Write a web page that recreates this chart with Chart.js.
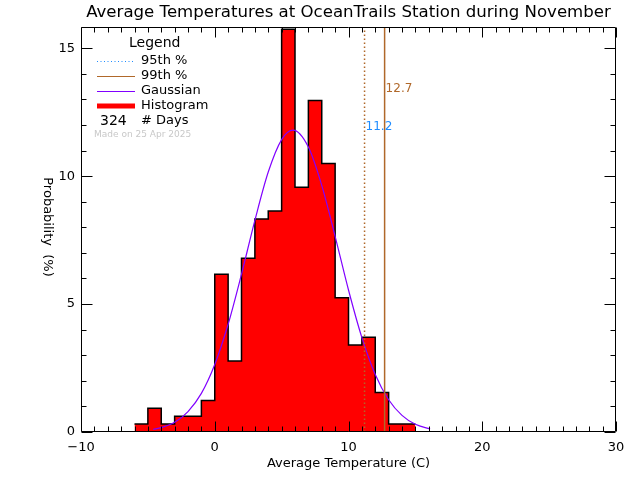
<!DOCTYPE html>
<html><head><meta charset="utf-8">
<script src="https://cdn.jsdelivr.net/npm/chart.js@4"></script>
<style>html,body{margin:0;padding:0;background:#fff}</style>
</head><body>
<canvas id="c" width="640" height="480" style="width:640px;height:480px;display:block"></canvas>
<script>
const titleText = 'Average Temperatures at OceanTrails Station during November';
const xAxisTitle = 'Average Temperature (C)';
const yAxisTitle = 'Probability  (%)';
const binLeft = [-6,-5,-4,-3,-2,-1,0,1,2,3,4,5,6,7,8,9,10,11,12,13,14];
const binProb = [0.31,0.93,0.31,0.62,0.62,1.23,6.17,2.78,6.79,8.33,8.64,15.74,9.57,12.96,10.49,5.25,3.40,3.70,1.54,0.31,0.31];
const binWidth = 1;
const gaussX = [-4.6,-4,-3,-2,-1,0,1,2,3,4,5,5.85,7,8,9,10,11,12,13,14,15,16.1];
const gaussY = [0.10,0.17,0.38,0.80,1.51,2.64,4.21,6.17,8.27,10.16,11.43,11.80,11.14,9.64,7.65,5.55,3.69,2.25,1.26,0.65,0.30,0.12];
const p95 = 11.2;
const p99 = 12.7;
const nDays = 324;
const madeOn = 'Made on 25 Apr 2025';
const xTicks = [-10,0,10,20,30];
const yTicks = [0,5,10,15];
const xMin = -10, xMax = 30, yMin = 0, yMax = 15.83;

const FONT = "'DejaVu Sans'";
const BROWN = '#b0682a', BLUE = '#1e8cff', PURPLE = '#8000ff', RED = '#ff0000';

const histPts = binLeft.map((b,i)=>({x:b,y:binProb[i]}));
histPts.push({x: binLeft[binLeft.length-1]+binWidth, y: binProb[binProb.length-1]});
const gaussPts = gaussX.map((x,i)=>({x:x,y:gaussY[i]}));

const deco = {
  id:'deco',
  afterDatasetsDraw(chart){
    const {ctx, chartArea:a, scales:{x,y}} = chart;
    ctx.save();
    ctx.strokeStyle='#000'; ctx.lineWidth=1;
    const L=Math.round(a.left)+0.5, R=Math.round(a.right)-0.5, T=Math.round(a.top)+0.5, B=Math.round(a.bottom)-0.5;
    ctx.beginPath();
    ctx.rect(L,T,R-L,B-T);
    for(let v=xMin; v<=xMax; v++){
      const px=Math.round(x.getPixelForValue(v))+0.5;
      const len = (v%10===0)?10:5;
      ctx.moveTo(px,B); ctx.lineTo(px,B-len);
      ctx.moveTo(px,T); ctx.lineTo(px,T+len);
    }
    for(let v=0; v<=15; v++){
      const py=Math.round(y.getPixelForValue(v))+0.5;
      const len = (v%5===0)?11:5;
      ctx.moveTo(L,py); ctx.lineTo(L+len,py);
      ctx.moveTo(R,py); ctx.lineTo(R-len,py);
    }
    ctx.stroke();

    // title
    ctx.fillStyle='#000';
    ctx.font='16.6px '+FONT;
    ctx.textAlign='center'; ctx.textBaseline='middle';
    ctx.fillText(titleText,(a.left+a.right)/2,13);

    // y title rotated clockwise
    ctx.save();
    ctx.translate(47,227);
    ctx.rotate(Math.PI/2);
    ctx.font='13px '+FONT;
    ctx.fillText(yAxisTitle,0,0);
    ctx.restore();

    // percentile labels
    ctx.font='12px '+FONT;
    ctx.textAlign='left';
    ctx.fillStyle=BROWN;
    ctx.fillText(p99.toFixed(1), x.getPixelForValue(p99)+1, 89);
    ctx.fillStyle=BLUE;
    ctx.fillText(p95.toFixed(1), x.getPixelForValue(p95)+1, 127);

    // legend
    ctx.fillStyle='#000';
    ctx.font='14px '+FONT;
    ctx.fillText('Legend',129,43);
    ctx.font='13px '+FONT;
    const lx0=97, lx1=135, tx=141;
    const rows=[61,76,91,106,121];
    ctx.lineWidth=1.2;
    ctx.strokeStyle=BLUE; ctx.setLineDash([1,2.5]);
    ctx.beginPath(); ctx.moveTo(lx0,rows[0]+0.5); ctx.lineTo(lx1,rows[0]+0.5); ctx.stroke();
    ctx.setLineDash([]);
    ctx.strokeStyle=BROWN;
    ctx.beginPath(); ctx.moveTo(lx0,rows[1]+0.5); ctx.lineTo(lx1,rows[1]+0.5); ctx.stroke();
    ctx.strokeStyle=PURPLE;
    ctx.beginPath(); ctx.moveTo(lx0,rows[2]+0.5); ctx.lineTo(lx1,rows[2]+0.5); ctx.stroke();
    ctx.fillStyle=RED;
    ctx.fillRect(lx0,rows[3]-2.5,lx1-lx0,5);
    ctx.fillStyle='#000';
    ctx.fillText('95th %',tx,rows[0]);
    ctx.fillText('99th %',tx,rows[1]);
    ctx.fillText('Gaussian',tx,rows[2]);
    ctx.fillText('Histogram',tx,rows[3]);
    ctx.fillText('# Days',tx,rows[4]);
    ctx.font='14px '+FONT;
    ctx.fillText(String(nDays),100,rows[4]);
    ctx.fillStyle='#c8c8c8';
    ctx.font='9px '+FONT;
    ctx.fillText(madeOn,94,135);
    ctx.restore();
  }
};

new Chart(document.getElementById('c'), {
  type:'line',
  data:{datasets:[
    {label:'Histogram', data:histPts, stepped:'before', fill:'origin', backgroundColor:RED, borderColor:'#000', borderWidth:1.5, pointRadius:0, order:4},
    {label:'Gaussian', data:gaussPts, borderColor:PURPLE, borderWidth:1.2, pointRadius:0, fill:false, cubicInterpolationMode:'monotone', order:3},
    {label:'95th %', data:[{x:p95,y:yMin},{x:p95,y:yMax}], borderColor:BROWN, borderWidth:1.5, borderDash:[1.5,2.5], pointRadius:0, fill:false, order:2},
    {label:'99th %', data:[{x:p99,y:yMin},{x:p99,y:yMax}], borderColor:BROWN, borderWidth:1.5, pointRadius:0, fill:false, order:1}
  ]},
  options:{
    responsive:false, animation:false, devicePixelRatio:1,
    layout:{padding:{top:27,right:24,left:0,bottom:0}},
    plugins:{legend:{display:false}, title:{display:false}, tooltip:{enabled:false}},
    scales:{
      x:{type:'linear', min:xMin, max:xMax,
         grid:{display:false, drawTicks:false}, border:{display:false},
         afterBuildTicks(s){ s.ticks = xTicks.map(v=>({value:v})); },
         ticks:{padding:8, color:'#000', font:{family:FONT,size:13}, maxRotation:0, autoSkip:false,
                callback:v=>String(v).replace('-','\u2212')},
         title:{display:true, text:xAxisTitle, color:'#000', font:{family:FONT,size:13}, padding:{top:0,bottom:9}},
         afterFit(s){ s.height=48; }},
      y:{type:'linear', min:yMin, max:yMax,
         grid:{display:false, drawTicks:false}, border:{display:false},
         afterBuildTicks(s){ s.ticks = yTicks.map(v=>({value:v})); },
         ticks:{padding:6, color:'#000', font:{family:FONT,size:13}},
         afterFit(s){ s.width=81; }}
    }
  },
  plugins:[deco]
});
</script>
</body></html>
